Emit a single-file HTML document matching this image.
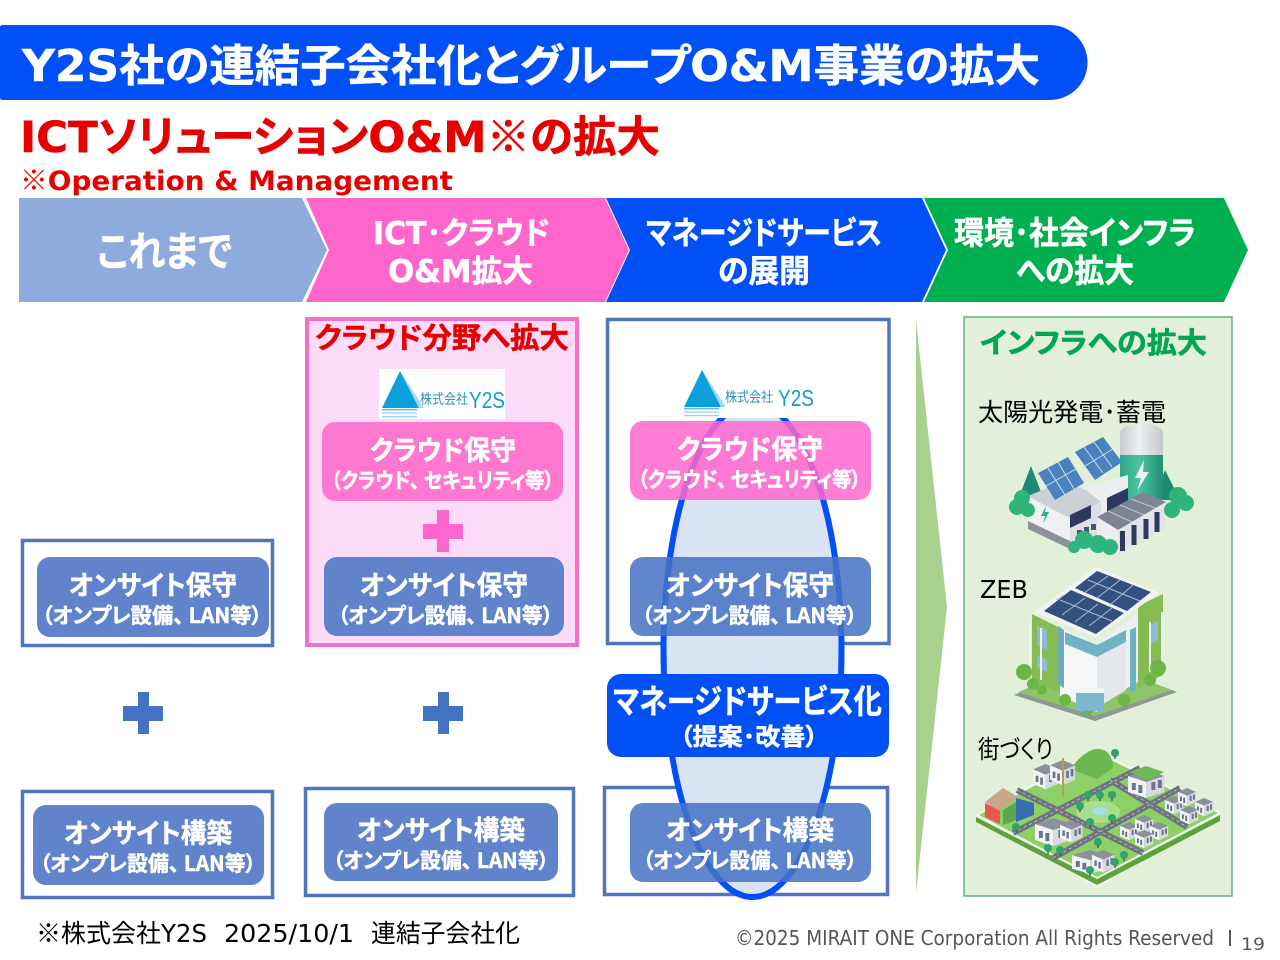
<!DOCTYPE html>
<html lang="ja"><head><meta charset="utf-8"><title>Y2S</title>
<style>
html,body{margin:0;padding:0;background:#fff}
svg{display:block}
text{font-family:"DejaVu Sans","Noto Sans CJK JP",sans-serif;font-feature-settings:"palt"}
.b{font-family:"DejaVu Sans","Noto Sans CJK JP",sans-serif;font-weight:700}
.j{font-family:"Noto Sans CJK JP",sans-serif;font-weight:700;stroke-width:.5}
.d{font-family:"DejaVu Sans","Noto Sans CJK JP",sans-serif;font-weight:700;stroke-width:.5}
.w{fill:#fff;stroke:#fff}
.t{font-size:27px}.s{font-size:21px}
.r{font-family:"Liberation Sans","Noto Sans CJK JP",sans-serif;fill:#000}
.n{font-family:"Noto Sans CJK JP",sans-serif}
</style></head><body>
<svg width="1280" height="960" viewBox="0 0 1280 960" xmlns="http://www.w3.org/2000/svg">
<defs>
<linearGradient id="bat" x1="0" x2="1" y1="0" y2="0"><stop offset="0" stop-color="#c9ccd0"/><stop offset=".45" stop-color="#eef0f1"/><stop offset="1" stop-color="#c4c7cb"/></linearGradient>
<linearGradient id="batg" x1="0" x2="1" y1="0" y2="0"><stop offset="0" stop-color="#2aa886"/><stop offset=".45" stop-color="#4dc2a0"/><stop offset="1" stop-color="#1f9174"/></linearGradient>
<g id="logo">
<polygon points="20,0 44,37 39,37" fill="#a5d8f3"/>
<polygon points="20,0 39,37 2,37" fill="#0ea0dc"/>
<rect x="2" y="38" width="35" height="1.4" fill="#5cc0e8"/><rect x="2" y="41.500" width="35" height="1.2" fill="#8fd3ef"/><rect x="2" y="45" width="35" height="1.2" fill="#8fd3ef"/>
</g>
<g id="hs"><polygon points="0,6 14,0 28,6 14,12" fill="#8b909c"/><polygon points="0,6 14,12 14,28 0,22" fill="#f2f3f5"/><polygon points="14,12 28,6 28,22 14,28" fill="#d6d9df"/><rect x="3" y="13" width="3" height="7" fill="#6a748a"/><rect x="8" y="15" width="3" height="8" fill="#6a748a"/><rect x="18" y="12" width="3" height="8" fill="#6a748a"/><rect x="23" y="10" width="3" height="8" fill="#6a748a"/></g>
<g id="tr"><circle cx="0" cy="0" r="4" fill="#2fa56b"/><rect x="-.7" y="3" width="1.4" height="3" fill="#555"/></g>
</defs>

<!-- title -->
<path d="M0 27 Q0 25 3 25 H1050 A37.500 37.500 0 0 1 1050 100 H3 Q0 100 0 98Z" fill="#0050f5"/>
<text x="22" y="81" class="d w" font-size="44" textLength="1018" lengthAdjust="spacingAndGlyphs">Y2S社の連結子会社化とグループO&amp;M事業の拡大</text>
<text x="20" y="152" class="d" font-size="43" fill="#e60000" stroke="#e60000" textLength="640" lengthAdjust="spacingAndGlyphs">ICTソリューションO&amp;M<tspan class="n" font-weight="400">※</tspan>の拡大</text>
<text x="20" y="190" class="b" font-size="27" fill="#e60000" textLength="433" lengthAdjust="spacingAndGlyphs"><tspan class="n" font-weight="400">※</tspan>Operation &amp; Management</text>

<!-- chevrons -->
<polygon points="19,198 302,198 327,250 302,302 19,302" fill="#8faadc"/>
<polygon points="306,198 605,198 629,250 605,302 306,302 329,250" fill="#ff66cc"/>
<polygon points="606,198 922,198 946,250 922,302 606,302 630,250" fill="#0050f5"/>
<polygon points="924,198 1224,198 1248,250 1224,302 924,302 948,250" fill="#00b050"/>
<text x="97" y="266" class="j w" font-size="41" textLength="135" lengthAdjust="spacingAndGlyphs">これまで</text>
<text x="373" y="244" class="d w" font-size="31" textLength="177" lengthAdjust="spacingAndGlyphs">ICT･クラウド</text>
<text x="388" y="282" class="d w" font-size="31" textLength="145" lengthAdjust="spacingAndGlyphs">O&amp;M拡大</text>
<text x="646" y="244" class="j w" font-size="32" textLength="236" lengthAdjust="spacingAndGlyphs">マネージドサービス</text>
<text x="718" y="282" class="j w" font-size="32" textLength="92" lengthAdjust="spacingAndGlyphs">の展開</text>
<text x="954" y="244" class="j w" font-size="32" textLength="242" lengthAdjust="spacingAndGlyphs">環境･社会インフラ</text>
<text x="1016" y="282" class="j w" font-size="32" textLength="118" lengthAdjust="spacingAndGlyphs">への拡大</text>

<!-- frames -->
<g fill="#fff" stroke="#4f75bd" stroke-width="3.500">
<rect x="22.500" y="540.500" width="250" height="105"/>
<rect x="22.500" y="791.500" width="250" height="106"/>
<rect x="305.500" y="788.500" width="268" height="107"/>
<rect x="604.500" y="787.500" width="283" height="107"/>
<rect x="607.500" y="319.500" width="281.500" height="324"/>
</g>
<rect x="307" y="319" width="270" height="326" fill="#fddcfb" stroke="#f56fc9" stroke-width="4"/>

<!-- ellipse (its top is hidden behind the logo's white background) -->
<ellipse cx="752.500" cy="650" rx="89" ry="247" fill="#d9e3f3" stroke="#0050f5" stroke-width="6"/>
<rect x="660" y="365" width="180" height="53" fill="#fff"/>

<!-- logos -->
<rect x="379" y="369" width="126" height="50" fill="#fff"/>
<use href="#logo" x="380" y="371"/>
<text x="420" y="404" class="r" font-size="14" style="fill:#2f93bf" textLength="48" lengthAdjust="spacingAndGlyphs">株式会社</text>
<text x="469" y="408" font-size="23" style="font-family:'Liberation Sans';fill:#149ad6" textLength="36" lengthAdjust="spacingAndGlyphs">Y2S</text>
<use href="#logo" x="682" y="370"/>
<text x="725" y="402" class="r" font-size="14" style="fill:#2f93bf" textLength="48" lengthAdjust="spacingAndGlyphs">株式会社</text>
<text x="778" y="406" font-size="23" style="font-family:'Liberation Sans';fill:#149ad6" textLength="36" lengthAdjust="spacingAndGlyphs">Y2S</text>

<text x="315" y="348" class="j" font-size="29" fill="#e60000" stroke="#e60000" textLength="254" lengthAdjust="spacingAndGlyphs">クラウド分野へ拡大</text>

<!-- boxes -->
<g fill="#6083cb">
<rect x="37" y="557" width="232" height="80" rx="13"/>
<rect x="33" y="805" width="231" height="80" rx="13"/>
<rect x="324" y="803" width="234" height="78" rx="13"/>
<rect x="324" y="557" width="240" height="79" rx="13"/>
</g>
<rect x="322" y="422" width="241" height="79" rx="13" fill="#ff78d0"/>
<rect x="630" y="421" width="241" height="79" rx="13" fill="#ff66cc" fill-opacity=".85"/>
<rect x="630" y="557" width="241" height="79" rx="13" fill="#4472c4" fill-opacity=".85"/>
<rect x="630" y="803" width="241" height="79" rx="13" fill="#4472c4" fill-opacity=".85"/>
<rect x="607" y="674" width="282" height="83" rx="14" fill="#0050f5"/>

<!-- plus -->
<path d="M138 692h11v14h14v15h-14v13h-11v-13h-15v-15h15z" fill="#4472c4"/>
<path d="M438 692h11v14h14v15h-14v13h-11v-13h-15v-15h15z" fill="#4472c4"/>
<path d="M437 510h12v14h14v15h-14v13h-12v-13h-14v-15h14z" fill="#ff66cc"/>

<!-- box text -->
<g>
<text x="69" y="595" class="j w t" textLength="168" lengthAdjust="spacingAndGlyphs">オンサイト保守</text>
<text x="42" y="623" class="j w s" textLength="220" lengthAdjust="spacingAndGlyphs">（オンプレ設備、 LAN等）</text>
<text x="64" y="843" class="j w t" textLength="168" lengthAdjust="spacingAndGlyphs">オンサイト構築</text>
<text x="40" y="871" class="j w s" textLength="216" lengthAdjust="spacingAndGlyphs">（オンプレ設備、 LAN等）</text>
<text x="357" y="840" class="j w t" textLength="168" lengthAdjust="spacingAndGlyphs">オンサイト構築</text>
<text x="333" y="868" class="j w s" textLength="216" lengthAdjust="spacingAndGlyphs">（オンプレ設備、 LAN等）</text>
<text x="666" y="840" class="j w t" textLength="168" lengthAdjust="spacingAndGlyphs">オンサイト構築</text>
<text x="643" y="868" class="j w s" textLength="214" lengthAdjust="spacingAndGlyphs">（オンプレ設備、 LAN等）</text>
<text x="360" y="595" class="j w t" textLength="168" lengthAdjust="spacingAndGlyphs">オンサイト保守</text>
<text x="338" y="623" class="j w s" textLength="215" lengthAdjust="spacingAndGlyphs">（オンプレ設備、 LAN等）</text>
<text x="666" y="595" class="j w t" textLength="168" lengthAdjust="spacingAndGlyphs">オンサイト保守</text>
<text x="642" y="623" class="j w s" textLength="215" lengthAdjust="spacingAndGlyphs">（オンプレ設備、 LAN等）</text>
<text x="370" y="460" class="j w t" textLength="146" lengthAdjust="spacingAndGlyphs">クラウド保守</text>
<text x="331" y="488" class="j w s" textLength="223" lengthAdjust="spacingAndGlyphs">（クラウド、 セキュリティ等）</text>
<text x="677" y="459" class="j w t" textLength="146" lengthAdjust="spacingAndGlyphs">クラウド保守</text>
<text x="638" y="487" class="j w s" textLength="223" lengthAdjust="spacingAndGlyphs">（クラウド、 セキュリティ等）</text>
<text x="613" y="713" class="j w" font-size="33" textLength="269" lengthAdjust="spacingAndGlyphs">マネージドサービス化</text>
<text x="680" y="745" class="j w" font-size="24" textLength="138" lengthAdjust="spacingAndGlyphs">（提案･改善）</text>
</g>

<!-- wedge and panel -->
<polygon points="916,320 947,607 916,893" fill="#a9d18e"/>
<rect x="964" y="317" width="268" height="579" fill="#e2f0d9" stroke="#5fb08a" stroke-width="1.500"/>
<text x="980" y="353" class="j" font-size="29" fill="#00a651" stroke="#00a651" textLength="227" lengthAdjust="spacingAndGlyphs">インフラへの拡大</text>
<text x="978" y="421" class="r" font-size="25" textLength="188" lengthAdjust="spacingAndGlyphs">太陽光発電･蓄電</text>
<text x="980" y="598" font-size="25" fill="#000" textLength="48" lengthAdjust="spacingAndGlyphs">ZEB</text>
<text x="978" y="758" class="r" font-size="25" textLength="75" lengthAdjust="spacingAndGlyphs">街づくり</text>

<!-- solar illustration -->
<g>
<polygon points="1031,466 1043,497 1019,497" fill="#1f8a72"/>
<polygon points="1165,470 1180,500 1154,500" fill="#1f8a72"/>
<path d="M1120 434 Q1120 424 1141 424 Q1163 424 1163 434 V456 H1120Z" fill="url(#bat)"/>
<rect x="1120" y="455" width="43" height="45" fill="url(#batg)"/>
<polygon points="1144,460 1135,478 1141,478 1137,491 1149,472 1143,472" fill="#e8f5ef"/>
<polygon points="1083,487 1128,475 1128,508 1100,530 1083,530" fill="#eceef0"/>
<polygon points="1107,498 1128,488 1128,503 1107,513" fill="#2c3a5e"/>
<polygon points="1028,496 1062,482 1086,490 1101,502 1070,519" fill="#cdd0d4"/>
<polygon points="1028,497 1070,518 1070,548 1028,528" fill="#eef0f2"/>
<polygon points="1028,521 1070,541 1070,549 1028,529" fill="#8e9298"/>
<polygon points="1070,518 1101,503 1101,535 1070,549" fill="#dcdfe3"/>
<polygon points="1070,515 1091,505 1091,518 1070,528" fill="#2c3a5e"/>
<rect x="1077" y="530" width="5" height="6" fill="#4a5470"/><rect x="1084" y="527" width="5" height="6" fill="#4a5470"/><rect x="1091" y="524" width="5" height="6" fill="#4a5470"/>
<polygon points="1046,506 1041,516 1045,516 1043,524 1049,512 1045,512" fill="#2fb08d"/>
<polygon points="1038,473 1068,457 1084,483 1055,500" fill="#4a82bf"/>
<polygon points="1075,452 1103,437 1122,462 1095,480" fill="#4a82bf"/>
<path d="M1048 468l17 27M1058 462l16 27M1046 486l30-17M1084 447l19 26M1094 442l18 25M1085 466l28-17" stroke="#cfe0f0" stroke-width="1" fill="none"/>
<polygon points="1097,517 1143,492 1166,502 1118,530" fill="#7d8494"/>
<path d="M1108 511l24 11M1120 505l24 10M1131 499l24 9" stroke="#c5c8cd" stroke-width="1" fill="none"/>
<polygon points="1097,517 1118,530 1118,556 1097,543" fill="#eceef0"/>
<polygon points="1118,530 1166,502 1166,528 1118,556" fill="#e2e4e8"/>
<path d="M1122.500 531v20M1134 525v20M1146 519v20M1157 512v20" stroke="#2c3a5e" stroke-width="5"/>
<g fill="#2fb57c"><circle cx="1017" cy="507" r="8"/><circle cx="1022" cy="498" r="8"/><circle cx="1028" cy="510" r="7"/><circle cx="1178" cy="496" r="9"/><circle cx="1186" cy="503" r="8"/><circle cx="1172" cy="510" r="8"/><circle cx="1084" cy="540" r="9"/><circle cx="1098" cy="544" r="9"/><circle cx="1110" cy="547" r="8"/><circle cx="1074" cy="547" r="6"/></g>
</g>

<!-- ZEB illustration -->
<g>
<polygon points="1014,695 1095,661 1177,692 1095,721" fill="#8a9a90"/>
<polygon points="1018,692 1095,661 1172,690 1095,716" fill="#8fc56a"/>
<polygon points="1032,614 1060,628 1060,692 1032,682" fill="#86bd52"/>
<polygon points="1060,628 1097,645 1097,712 1060,696" fill="#f5f6f8"/>
<polygon points="1097,645 1138,612 1138,682 1097,705" fill="#eef1f4"/>
<polygon points="1138,606 1163,594 1163,675 1138,688" fill="#86bd52"/>
<polygon points="1058,626 1064,630 1064,688 1058,684" fill="#6fa9bf"/>
<polygon points="1065,632 1097,645 1126,630 1126,642 1097,657 1065,644" fill="#6fb2c4"/>
<polygon points="1097,657 1126,642 1126,690 1097,708" fill="#e4e7eb"/>
<polygon points="1130,630 1136,627 1136,690 1130,692" fill="#6fb2c4"/>
<polygon points="1037,625 1047,630 1047,650 1037,645" fill="#8fbad5"/>
<polygon points="1037,655 1047,660 1047,672 1037,668" fill="#8fbad5"/>
<polygon points="1150,625 1158,621 1158,640 1150,644" fill="#8fbad5"/>
<rect x="1029" y="620" width="2" height="50" fill="#eef1f4"/><rect x="1040" y="628" width="2" height="52" fill="#eef1f4"/><rect x="1149" y="622" width="2" height="50" fill="#eef1f4"/><rect x="1161" y="612" width="2" height="50" fill="#eef1f4"/>
<polygon points="1097,567 1159,593 1096,637 1034,612" fill="#f2f4f6"/>
<polygon points="1097,571 1151,592 1127,611 1075,588" fill="#34507f"/>
<polygon points="1071,590 1124,613 1096,634 1044,611" fill="#34507f"/>
<path d="M1108 576l-24 17M1120 580l-23 18M1133 585l-23 20M1064 595l-8 5M1085 598l-23 17M1098 604l-23 18M1112 608l-23 18M1088 580l52 21M1060 600l52 21" stroke="#a9bcd6" stroke-width="1" fill="none"/>
<g fill="#6cb547"><circle cx="1024" cy="672" r="8"/><circle cx="1033" cy="684" r="6"/><circle cx="1158" cy="668" r="8"/><circle cx="1150" cy="680" r="6"/><circle cx="1124" cy="700" r="6"/><circle cx="1065" cy="700" r="6"/><circle cx="1088" cy="710" r="5"/><circle cx="1042" cy="690" r="5"/></g>
<rect x="1047" y="686" width="4" height="0" fill="#7cb9ce"/>
<rect x="1076" y="691" width="28" height="20" fill="#7cb9ce"/>
<rect x="1076" y="688" width="28" height="5" fill="#f2f4f6"/>
</g>

<!-- city illustration -->
<g>
<polygon points="975,815 1097,750 1222,813 1097,888" fill="#f2f7ee"/>
<polygon points="976,817 1097,879 1220,815 1220,821 1097,885 976,822" fill="#5da33d"/>
<polygon points="979,815 1097,753 1218,813 1097,877" fill="#8dd065"/>
<path d="M1013 833 L1140 768 M1053 858 L1180 788 M1017 790 L1143 853 M1110 780 L1187 827" stroke="#6d7480" stroke-width="6" fill="none"/>
<path d="M1013 833 L1140 768 M1053 858 L1180 788 M1017 790 L1143 853 M1110 780 L1187 827" stroke="#dfe3e6" stroke-width=".6" stroke-dasharray="3 3" fill="none"/>
<path d="M1070 769 Q1092 741 1107 752 Q1113 758 1113 768 L1097 779Z" fill="#6ab84e"/>
<ellipse cx="1098" cy="812" rx="22" ry="11" fill="#a9dd8c"/><ellipse cx="1100" cy="811" rx="8" ry="4" fill="#a8dbe6"/>
<g transform="translate(1033,764) scale(.9)"><use href="#hs"/></g><g transform="translate(1050,760) scale(.9)"><use href="#hs"/></g>
<rect x="1062" y="758" width="2" height="38" fill="#b59a60"/>
<g transform="translate(1128,770) scale(1.300,1)"><use href="#hs"/></g>
<polygon points="1130,772 1146,766 1164,772 1148,780" fill="#6cbc4f"/>
<g transform="translate(1035,818) scale(1.300,1)"><use href="#hs"/></g>
<g transform="translate(1060,820) scale(.8)"><use href="#hs"/></g>
<g transform="translate(1072,850) scale(1.300,.85)"><use href="#hs"/></g>
<g transform="translate(1092,850) scale(.8,.8)"><use href="#hs"/></g>
<g transform="translate(1120,822) scale(.65)"><use href="#hs"/></g><g transform="translate(1135,815) scale(.65)"><use href="#hs"/></g><g transform="translate(1150,822) scale(.65)"><use href="#hs"/></g>
<g transform="translate(1135,830) scale(.65)"><use href="#hs"/></g>
<g transform="translate(1165,796) scale(.65)"><use href="#hs"/></g><g transform="translate(1178,788) scale(.65)"><use href="#hs"/></g><g transform="translate(1195,798) scale(.65)"><use href="#hs"/></g><g transform="translate(1180,806) scale(.65)"><use href="#hs"/></g>
<polygon points="985,802 1003,788 1018,797 998,812" fill="#c9a68a"/>
<polygon points="985,803 1000,811 1000,824 985,817" fill="#e8574a"/>
<polygon points="1003,810 1016,802 1016,820 1003,825" fill="#5aa84f"/>
<polygon points="1016,798 1034,803 1034,815 1016,822" fill="#3a6db0"/>
<g><use href="#tr" x="1016" y="827"/><use href="#tr" x="1048" y="848"/><use href="#tr" x="1088" y="795"/><use href="#tr" x="1112" y="795"/><use href="#tr" x="1112" y="818"/><use href="#tr" x="1080" y="806"/><use href="#tr" x="1098" y="842"/><use href="#tr" x="1124" y="855"/><use href="#tr" x="1115" y="753"/><use href="#tr" x="1090" y="870"/><use href="#tr" x="1100" y="795"/><use href="#tr" x="1090" y="822"/><use href="#tr" x="1060" y="850"/><use href="#tr" x="1115" y="862"/></g>
</g>

<!-- footer -->
<text x="36" y="942" class="r" font-size="25" textLength="125" lengthAdjust="spacingAndGlyphs">※株式会社</text>
<text x="161" y="942" font-size="25" fill="#000" textLength="46" lengthAdjust="spacingAndGlyphs">Y2S</text>
<text x="224" y="942" font-size="25" fill="#000" textLength="130" lengthAdjust="spacingAndGlyphs">2025/10/1</text>
<text x="371" y="942" class="r" font-size="25" textLength="149" lengthAdjust="spacingAndGlyphs">連結子会社化</text>
<text x="735" y="945" font-size="20" fill="#555" textLength="479" lengthAdjust="spacingAndGlyphs">©2025 MIRAIT ONE Corporation All Rights Reserved</text>
<rect x="1229" y="930" width="2" height="16" fill="#555"/>
<text x="1241" y="950" font-size="17" fill="#555" textLength="24" lengthAdjust="spacingAndGlyphs">19</text>
</svg>
</body></html>
